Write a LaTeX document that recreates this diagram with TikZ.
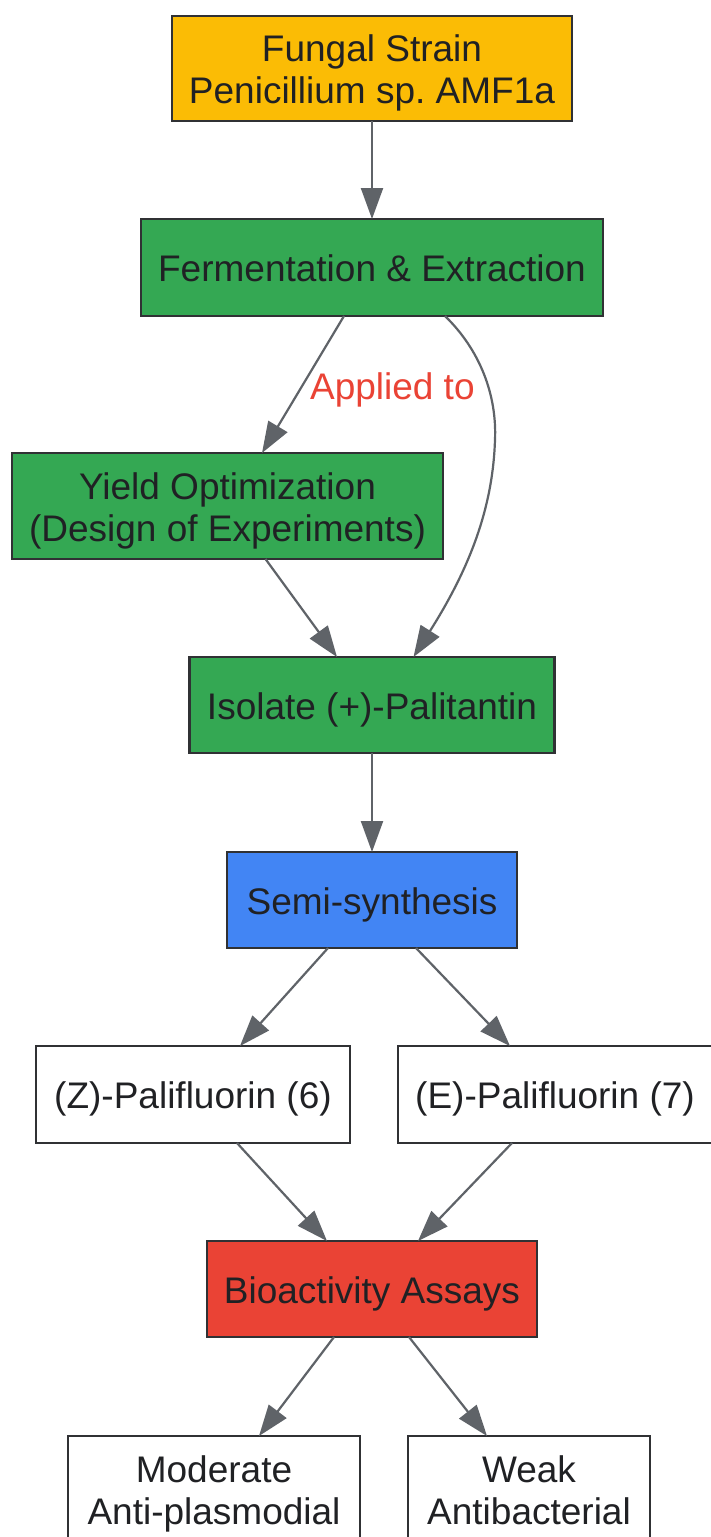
\documentclass[tikz,border=0pt]{standalone}
\usepackage{fontspec}
\setmainfont{Liberation Sans}
\usetikzlibrary{arrows.meta}
\frenchspacing
\definecolor{gyellow}{HTML}{FBBC05}
\definecolor{ggreen}{HTML}{34A853}
\definecolor{gblue}{HTML}{4285F4}
\definecolor{gred}{HTML}{EA4335}
\definecolor{txt}{HTML}{202124}
\definecolor{edgec}{HTML}{5F6368}
\definecolor{bord}{HTML}{303134}
\def\bt{\rule{0pt}{37.4pt}}
\def\bb{\rule[-9pt]{0pt}{9pt}}
\tikzset{
  box/.style={draw=bord, line width=2.5pt, inner sep=0pt, outer sep=0pt, align=center,
    text=txt, font=\fontsize{37}{42}\selectfont},
  conn/.style={draw=edgec, line width=2.2pt, -{Triangle[length=31pt,width=22pt]}},
  lbl/.style={text=gred, font=\fontsize{37}{42}\selectfont, inner sep=0pt}
}
\begin{document}
\begin{tikzpicture}[x=1pt,y=1pt]
\clip (0,0) rectangle (711,-1537);
\fill[white] (0,0) rectangle (711,-1537);
\node[box, fill=gyellow, minimum width=400pt, minimum height=105pt] (fungal) at (372,-68.5) {\bt Fungal Strain\\Penicillium sp.\ AMF1a\bb};
\node[box, fill=ggreen, minimum width=462pt, minimum height=97pt] (ferm) at (372,-267.5) {\bt Fermentation \& Extraction\bb};
\node[box, fill=ggreen, minimum width=431pt, minimum height=106pt] (yield) at (227.5,-506) {\bt Yield Optimization\\(Design of Experiments)\bb};
\node[box, fill=ggreen, minimum width=365pt, minimum height=96pt] (iso) at (372,-705) {\bt Isolate (+)-Palitantin\bb};
\node[box, fill=gblue, minimum width=290pt, minimum height=96pt] (semi) at (372,-900) {\bt Semi-synthesis\bb};
\node[box, fill=white, minimum width=314pt, minimum height=97pt] (zp) at (193,-1094.5) {\bt (Z)-Palifluorin (6)\bb};
\node[box, fill=white, minimum width=314pt, minimum height=97pt] (ep) at (555,-1094.5) {\bt (E)-Palifluorin (7)\bb};
\node[box, fill=gred, minimum width=330pt, minimum height=96pt] (bio) at (372,-1289) {\bt Bioactivity Assays\bb};
\node[box, fill=white, minimum width=292pt, minimum height=106pt] (mod) at (214,-1489) {\bt Moderate\\Anti-plasmodial\bb};
\node[box, fill=white, minimum width=242pt, minimum height=106pt] (weak) at (529,-1489) {\bt Weak\\Antibacterial\bb};

\draw[conn] (fungal.south) -- (ferm.north);
\draw[conn] ([xshift=-28pt]ferm.south) -- node[lbl, pos=0.5, anchor=west, xshift=6pt, yshift=-5pt] (applied) {Applied to} ([xshift=34.5pt]yield.north);
\draw[conn] ([xshift=73pt]ferm.south) .. controls (480,-350) and (497,-395) .. (495,-440)
   .. controls (493,-500) and (475,-560) .. ([xshift=41.5pt]iso.north);
\draw[conn] ([xshift=38pt]yield.south) -- ([xshift=-35pt]iso.north);
\draw[conn] (iso.south) -- (semi.north);
\draw[conn] ([xshift=-44pt]semi.south) -- ([xshift=47pt]zp.north);
\draw[conn] ([xshift=44pt]semi.south) -- ([xshift=-45pt]ep.north);
\draw[conn] ([xshift=44pt]zp.south) -- ([xshift=-45pt]bio.north);
\draw[conn] ([xshift=-43pt]ep.south) -- ([xshift=46pt]bio.north);
\draw[conn] ([xshift=-38pt]bio.south) -- ([xshift=45pt]mod.north);
\draw[conn] ([xshift=37pt]bio.south) -- ([xshift=-42pt]weak.north);
\end{tikzpicture}
\end{document}
